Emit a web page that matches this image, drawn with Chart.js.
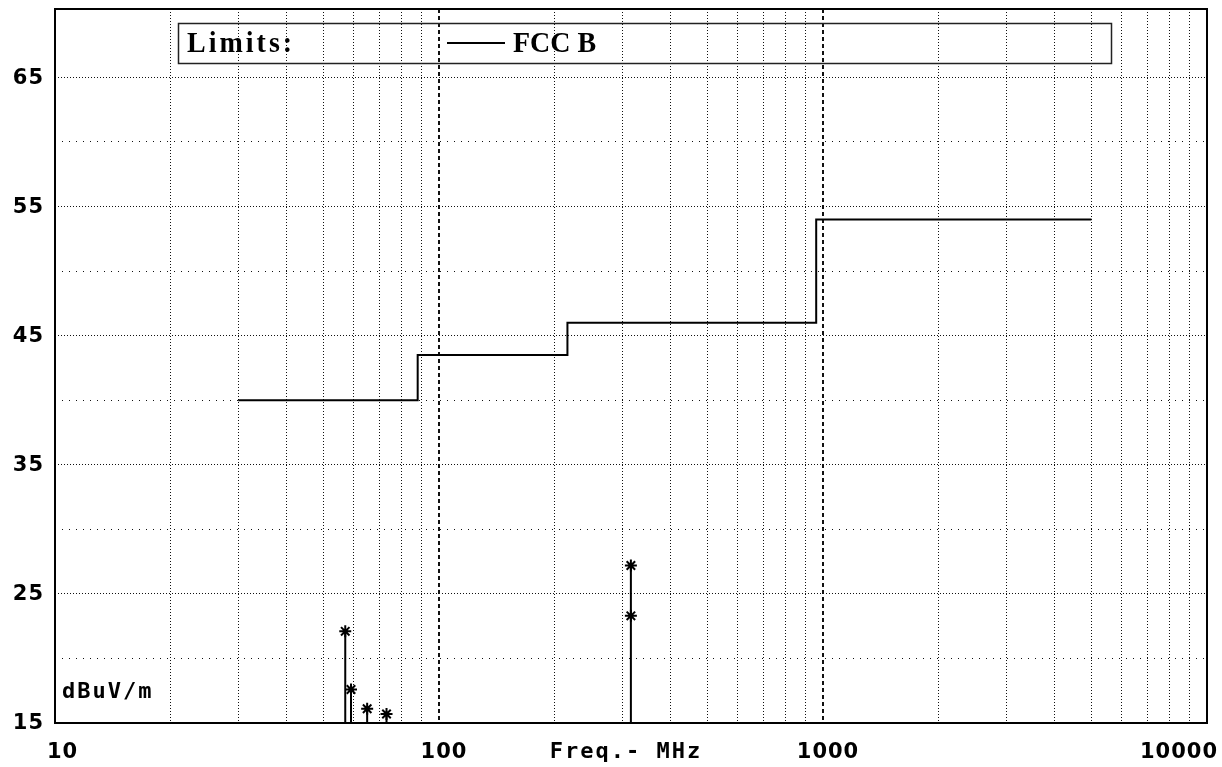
<!DOCTYPE html>
<html>
<head>
<meta charset="utf-8">
<title>FCC B</title>
<script src="https://cdn.jsdelivr.net/npm/chart.js@4/dist/chart.umd.min.js"></script>
<style>
  html, body { margin: 0; padding: 0; background: #fff; }
  canvas { display: block; }
</style>
</head>
<body>
<canvas id="grafico" width="1222" height="767"></canvas>
<script>
// === DATA ===
const limitFreq  = [30, 88, 88, 216, 216, 960, 960, 5000];
const limitLevel = [40, 40, 43.5, 43.5, 46, 46, 54, 54];

const peakFreq  = [57, 59, 65, 73, 316, 316];
const peakLevel = [22.1, 17.6, 16.1, 15.7, 27.2, 23.3];

const freqTicks  = [10, 100, 1000, 10000];
const levelTicks = [15, 25, 35, 45, 55, 65];
const levelFloor = 15;

document.addEventListener("DOMContentLoaded", function () {

  // === STEMS (from floor up to each peak) ===
  const stemPoints = [];
  peakFreq.forEach((f, i) => {
    stemPoints.push({ x: f, y: levelFloor }, { x: f, y: peakLevel[i] }, { x: f, y: null });
  });

  const fonteNum = 'bold 21px "DejaVu Sans"';
  const fonteTxt = 'bold 22px "DejaVu Sans Mono"';

  // === FRAME, LABELS AND LEGEND BOX ===
  const decoracao = {
    id: 'decoracao',
    afterDraw(chart) {
      const { ctx, chartArea: a, scales: { x, y } } = chart;
      ctx.save();
      ctx.setLineDash([]);
      ctx.strokeStyle = '#000';
      ctx.lineWidth = 2;
      ctx.strokeRect(a.left, a.top, a.right - a.left, a.bottom - a.top);

      ctx.fillStyle = '#000';
      ctx.font = fonteNum;
      ctx.letterSpacing = '1px';

      // y labels
      ctx.textAlign = 'right';
      ctx.textBaseline = 'middle';
      levelTicks.forEach(v => ctx.fillText(String(v), a.left - 11, y.getPixelForValue(v) + 1));

      // x labels
      ctx.textBaseline = 'alphabetic';
      freqTicks.forEach((f, i) => {
        const px = x.getPixelForValue(f);
        if (i === 0) {
          ctx.textAlign = 'left';
          ctx.fillText(String(f), px - 8, 758);
        } else if (i === freqTicks.length - 1) {
          ctx.textAlign = 'right';
          ctx.fillText(String(f), chart.width - 4, 758);
        } else {
          ctx.textAlign = 'center';
          ctx.fillText(String(f), px + 5, 758);
        }
      });

      ctx.font = fonteTxt;
      ctx.letterSpacing = '2px';
      ctx.textAlign = 'center';
      ctx.fillText('Freq.- MHz', (a.left + a.right) / 2 - 5, 758);

      ctx.textAlign = 'left';
      ctx.fillText('dBuV/m', a.left + 7, a.bottom - 25);

      // legend box
      ctx.lineWidth = 1.5;
      ctx.strokeStyle = '#222';
      ctx.strokeRect(178.5, 23.5, 933, 40);

      ctx.font = 'bold 28px "Liberation Serif"';
      ctx.save();
      ctx.scale(1, 1.08);
      ctx.letterSpacing = '3px';
      ctx.fillText('Limits:', 187, 52 / 1.08);
      ctx.letterSpacing = '0px';
      ctx.fillText(chart.data.datasets[0].label, 513, 52 / 1.08);
      ctx.restore();

      ctx.lineWidth = 2;
      ctx.strokeStyle = '#000';
      ctx.beginPath();
      ctx.moveTo(447, 43);
      ctx.lineTo(505, 43);
      ctx.stroke();

      ctx.restore();
    }
  };

  new Chart(document.getElementById('grafico').getContext('2d'), {
    type: 'scatter',
    data: {
      datasets: [
        {
          label: 'FCC B',
          data: limitFreq.map((f, i) => ({ x: f, y: limitLevel[i] })),
          showLine: true,
          borderColor: '#000',
          borderWidth: 2,
          pointRadius: 0,
          pointHoverRadius: 0
        },
        {
          label: 'stems',
          data: stemPoints,
          showLine: true,
          spanGaps: false,
          borderColor: '#000',
          borderWidth: 2,
          pointRadius: 0,
          pointHoverRadius: 0
        },
        {
          label: 'peaks',
          data: peakFreq.map((f, i) => ({ x: f, y: peakLevel[i] })),
          pointStyle: 'star',
          pointRadius: 6,
          pointBorderWidth: 2,
          borderColor: '#000',
          backgroundColor: '#000'
        }
      ]
    },
    options: {
      responsive: false,
      devicePixelRatio: 1,
      animation: false,
      layout: {
        padding: { top: 9, right: 15, left: 0, bottom: 0 },
        autoPadding: false
      },
      plugins: {
        legend: { display: false },
        tooltip: { enabled: false }
      },
      scales: {
        x: {
          type: 'logarithmic',
          position: 'bottom',
          min: 10,
          max: 10000,
          afterBuildTicks(scale) {
            const t = [];
            [10, 100, 1000].forEach(d => {
              for (let k = 1; k <= 9; k++) t.push({ value: k * d });
            });
            t.push({ value: 10000 });
            scale.ticks = t;
          },
          afterFit(scale) {
            scale.height = 44;
            scale.paddingLeft = 0;
            scale.paddingRight = 0;
          },
          ticks: { display: false },
          grid: {
            drawTicks: false,
            color: '#111',
            lineWidth: c => (c.tick && (c.tick.value === 100 || c.tick.value === 1000)) ? 2 : 1
          },
          border: {
            display: false,
            dash: c => (c.tick && (c.tick.value === 100 || c.tick.value === 1000)) ? [4, 3] : [1, 2]
          }
        },
        y: {
          type: 'linear',
          min: 15,
          max: 70.3,
          afterBuildTicks(scale) {
            const t = [];
            for (let v = 15; v <= 65; v += 5) t.push({ value: v });
            scale.ticks = t;
          },
          afterFit(scale) {
            scale.width = 55;
            scale.paddingTop = 0;
            scale.paddingBottom = 0;
          },
          ticks: { display: false },
          grid: {
            drawTicks: false,
            color: '#111',
            lineWidth: 1
          },
          border: {
            display: false,
            dash: c => (c.tick && (c.tick.value - 15) % 10 === 0) ? [1, 2] : [1, 6]
          }
        }
      }
    },
    plugins: [decoracao]
  });
});
</script>
</body>
</html>
